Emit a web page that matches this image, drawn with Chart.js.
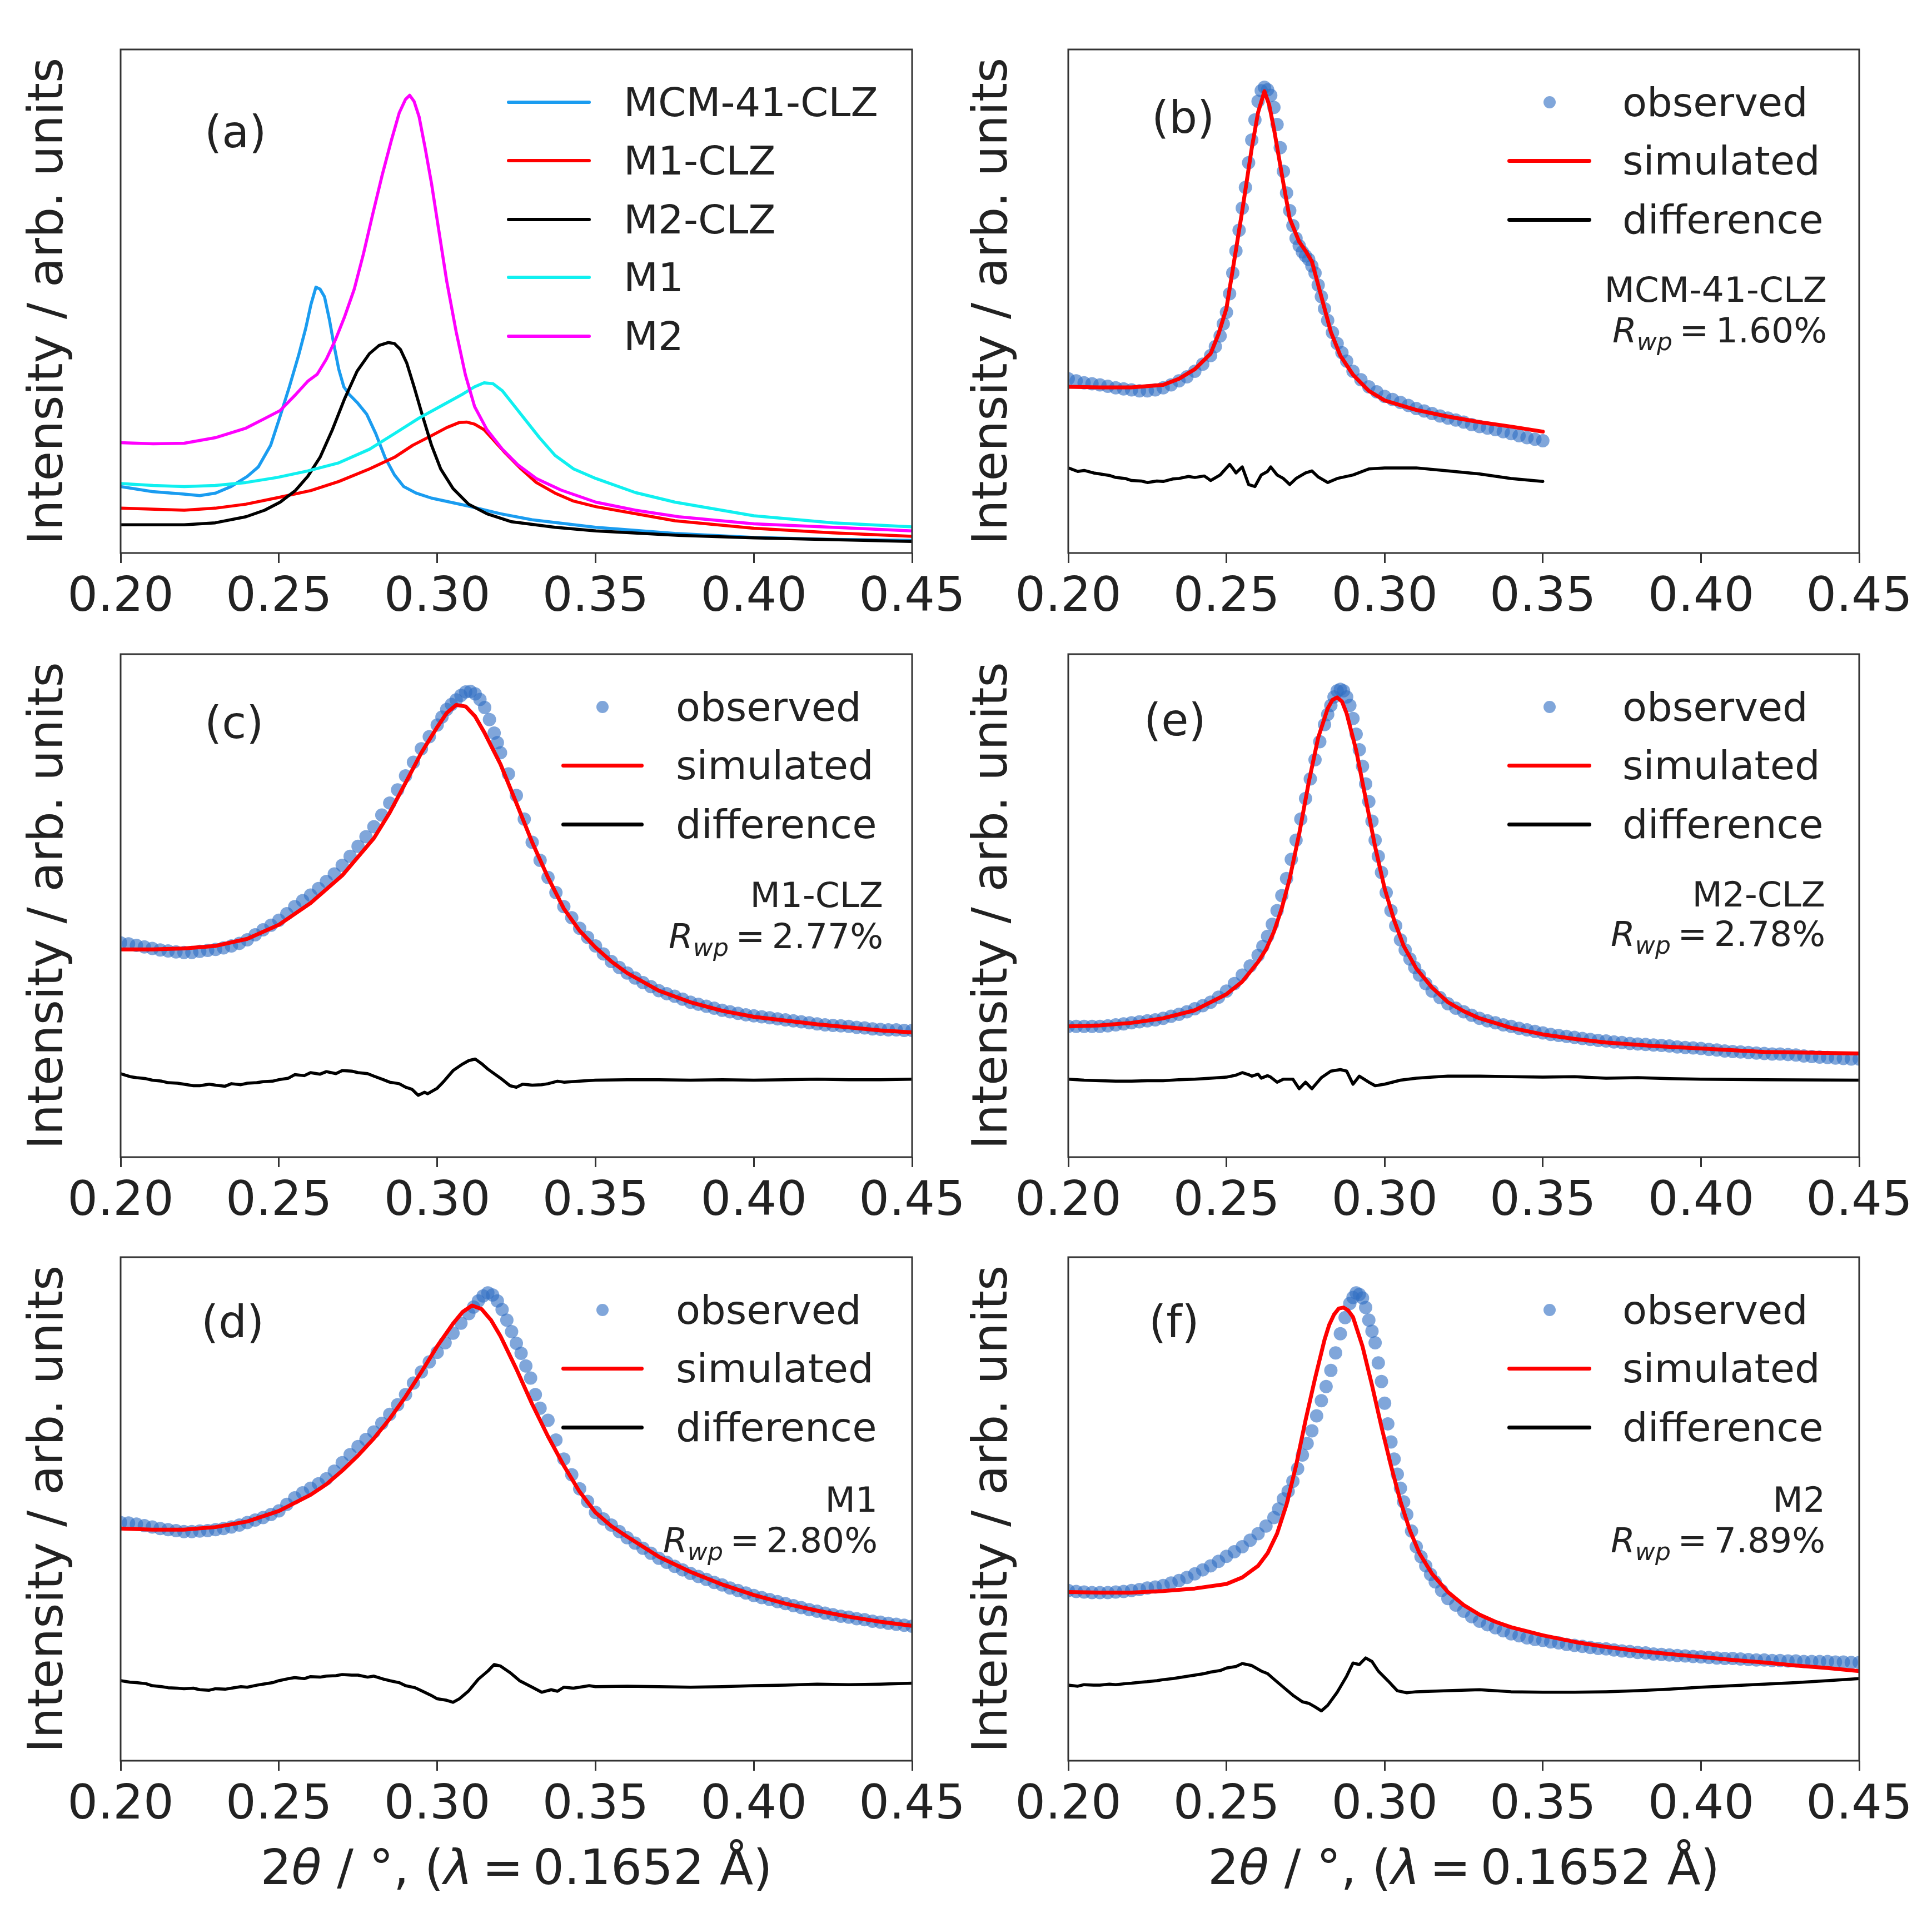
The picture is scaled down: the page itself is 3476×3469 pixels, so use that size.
<!DOCTYPE html>
<html><head><meta charset="utf-8">
<script src="https://cdn.jsdelivr.net/npm/chart.js@4.4.1/dist/chart.umd.min.js"></script>
<style>
html,body{margin:0;padding:0;background:#fff;}
#page{position:relative;width:3476px;height:3469px;overflow:hidden;background:#fff;font-family:"DejaVu Sans",sans-serif;color:#222;}
canvas{position:absolute;}
.t{position:absolute;white-space:nowrap;font-family:"DejaVu Sans",sans-serif;color:#222;}
</style></head><body><div id="page"></div>
<script>
// ---------- tick labels / text ----------
const xTickValues=[0.20,0.25,0.30,0.35,0.40,0.45];
const xTickLabels=['0.20','0.25','0.30','0.35','0.40','0.45'];
const yAxisTitle='Intensity / arb. units';
const legendA=['MCM-41-CLZ','M1-CLZ','M2-CLZ','M1','M2'];
const legendFit=['observed','simulated','difference'];
const sampleNames={b:'MCM-41-CLZ',c:'M1-CLZ',e:'M2-CLZ',d:'M1',f:'M2'};
const rwpValues={b:'1.60%',c:'2.77%',e:'2.78%',d:'2.80%',f:'7.89%'};

// ---------- panel (a) ----------
const aMcm41Clz=[[0.200,13.2],[0.210,12.2],[0.220,11.7],[0.225,11.4],[0.230,11.9],[0.2349,13.2],[0.2400,15.2],[0.2435,17.1],[0.2474,21.4],[0.2504,27.2],[0.2533,33.0],[0.2562,39.2],[0.2585,44.7],[0.2601,49.3],[0.2617,52.8],[0.2630,52.4],[0.2644,50.9],[0.2660,46.2],[0.2673,41.6],[0.2689,36.5],[0.2705,33.0],[0.2722,31.5],[0.2747,29.9],[0.2777,27.6],[0.2806,23.7],[0.2835,19.0],[0.2865,15.5],[0.2894,13.2],[0.2933,11.9],[0.2982,10.9],[0.310,9.3],[0.320,7.8],[0.330,6.6],[0.350,5.1],[0.375,3.9],[0.400,3.1],[0.425,2.7],[0.450,2.5]];
const aM1Clz=[[0.200,8.9],[0.2201,8.5],[0.2299,8.9],[0.2396,9.7],[0.2504,11.1],[0.2601,12.4],[0.2689,14.2],[0.2786,16.7],[0.2865,19.0],[0.2923,21.4],[0.2982,23.3],[0.3030,24.9],[0.3069,25.9],[0.3093,26.0],[0.3118,25.6],[0.3148,24.5],[0.3177,22.5],[0.3216,19.8],[0.3265,16.7],[0.3313,14.0],[0.3372,11.9],[0.3431,10.3],[0.3501,9.2],[0.3626,7.8],[0.3751,6.4],[0.400,4.9],[0.425,4.0],[0.450,3.3]];
const aM2Clz=[[0.200,5.6],[0.2201,5.6],[0.2299,6.0],[0.2396,7.2],[0.2455,8.5],[0.2504,10.1],[0.2552,12.4],[0.2591,15.2],[0.2630,19.0],[0.2669,24.5],[0.2708,30.7],[0.2747,36.1],[0.2786,39.6],[0.2816,41.2],[0.2845,41.8],[0.2865,41.6],[0.2884,40.4],[0.2904,37.7],[0.2927,33.0],[0.2952,27.6],[0.2982,21.4],[0.3011,16.7],[0.3050,12.8],[0.3099,9.7],[0.3157,7.8],[0.3235,6.2],[0.3372,5.1],[0.3501,4.4],[0.3762,3.5],[0.400,3.0],[0.450,2.3]];
const aM1=[[0.200,13.8],[0.2103,13.4],[0.2201,13.2],[0.2299,13.4],[0.2396,14.0],[0.2494,15.0],[0.2591,16.3],[0.2689,17.9],[0.2786,20.6],[0.2865,23.7],[0.2943,26.8],[0.3021,29.5],[0.3079,31.5],[0.3118,33.0],[0.3148,33.8],[0.3177,33.6],[0.3206,32.2],[0.3235,29.9],[0.3274,26.8],[0.3323,22.9],[0.3372,19.4],[0.3431,16.7],[0.3501,14.8],[0.3626,12.0],[0.3751,10.1],[0.400,7.4],[0.425,6.0],[0.450,5.2]];
const aM2=[[0.200,21.9],[0.2103,21.7],[0.2201,21.8],[0.2299,22.9],[0.2396,24.8],[0.2455,26.7],[0.2504,28.3],[0.2552,31.4],[0.2591,34.1],[0.2621,35.5],[0.2650,38.5],[0.2679,42.4],[0.2708,47.0],[0.2738,52.4],[0.2767,59.4],[0.2796,67.2],[0.2826,75.0],[0.2855,81.9],[0.2880,87.4],[0.2900,90.1],[0.2913,90.9],[0.2927,89.7],[0.2943,86.6],[0.2962,80.4],[0.2982,73.4],[0.3005,64.1],[0.3030,54.0],[0.3060,43.9],[0.3089,35.4],[0.3118,29.1],[0.3157,24.5],[0.3206,20.6],[0.3255,17.5],[0.3313,14.8],[0.3391,12.5],[0.3501,10.1],[0.3626,8.5],[0.3762,7.2],[0.400,5.8],[0.425,5.1],[0.450,4.4]];

// ---------- panel (b) MCM-41-CLZ ----------
const bObserved=[[0.200,34.6],[0.2025,34.2],[0.205,33.8],[0.2075,33.6],[0.210,33.4],[0.2125,33.1],[0.215,32.8],[0.2175,32.6],[0.220,32.4],[0.2225,32.2],[0.225,32.2],[0.2275,32.4],[0.230,32.8],[0.2325,33.4],[0.235,34.2],[0.2375,35.0],[0.240,36.1],[0.2425,37.5],[0.245,39.2],[0.2465,41.0],[0.248,43.1],[0.249,45.5],[0.250,47.8],[0.251,51.5],[0.252,55.6],[0.253,60.0],[0.254,64.1],[0.255,68.5],[0.256,72.6],[0.257,77.5],[0.258,82.0],[0.259,86.0],[0.260,89.7],[0.261,91.8],[0.262,92.5],[0.263,92.0],[0.264,90.9],[0.265,88.5],[0.266,85.1],[0.267,80.5],[0.268,75.8],[0.269,71.5],[0.270,68.0],[0.271,65.0],[0.272,62.5],[0.273,61.0],[0.274,59.8],[0.275,59.0],[0.276,58.3],[0.277,57.0],[0.278,55.6],[0.279,53.2],[0.280,50.9],[0.281,48.5],[0.282,46.2],[0.2835,43.8],[0.285,41.6],[0.2865,39.8],[0.288,38.1],[0.290,36.1],[0.2925,34.4],[0.295,33.0],[0.2975,32.0],[0.300,31.1],[0.3025,30.5],[0.305,29.9],[0.3075,29.3],[0.310,28.7],[0.3125,28.2],[0.315,27.7],[0.3175,27.2],[0.320,26.8],[0.3225,26.4],[0.325,26.0],[0.3275,25.5],[0.330,25.1],[0.3325,24.8],[0.335,24.5],[0.3375,24.1],[0.340,23.7],[0.3425,23.3],[0.345,22.9],[0.3475,22.6],[0.350,22.3]];
const bSimulated=[[0.200,33.0],[0.210,32.9],[0.220,32.9],[0.230,33.4],[0.235,34.6],[0.240,36.5],[0.245,39.6],[0.2475,43.5],[0.250,48.6],[0.252,56.3],[0.255,68.0],[0.258,80.4],[0.260,87.5],[0.262,91.7],[0.2635,89.0],[0.265,84.3],[0.268,73.4],[0.270,66.4],[0.273,61.8],[0.275,60.0],[0.277,57.9],[0.280,50.9],[0.283,43.9],[0.286,39.2],[0.290,35.4],[0.295,32.2],[0.300,30.3],[0.310,28.4],[0.320,27.1],[0.330,26.0],[0.340,25.1],[0.350,24.1]];
const bDifference=[[0.200,16.9],[0.203,16.2],[0.205,16.4],[0.208,15.9],[0.210,15.7],[0.213,15.4],[0.215,15.0],[0.218,14.8],[0.220,14.4],[0.223,14.3],[0.225,14.0],[0.228,14.3],[0.230,14.2],[0.233,14.7],[0.235,14.8],[0.238,15.2],[0.240,15.0],[0.243,15.3],[0.245,14.4],[0.248,15.5],[0.251,17.6],[0.252,16.8],[0.253,15.9],[0.255,17.1],[0.257,13.6],[0.259,13.2],[0.261,15.5],[0.263,16.2],[0.264,17.1],[0.266,15.5],[0.268,14.8],[0.270,13.6],[0.272,14.8],[0.275,15.9],[0.277,16.3],[0.279,15.1],[0.282,14.0],[0.285,14.8],[0.290,15.5],[0.295,16.7],[0.300,16.9],[0.310,16.9],[0.320,16.3],[0.330,15.7],[0.340,14.8],[0.350,14.2]];

// ---------- panel (c) M1-CLZ ----------
const cObserved=[[0.200,42.6],[0.2025,42.4],[0.205,42.1],[0.2075,41.8],[0.210,41.5],[0.2125,41.2],[0.215,41.0],[0.2175,40.8],[0.220,40.7],[0.2225,40.7],[0.225,40.9],[0.2275,41.1],[0.230,41.3],[0.2325,41.6],[0.235,42.0],[0.2375,42.5],[0.240,43.2],[0.2425,44.2],[0.245,45.2],[0.2475,46.1],[0.250,47.1],[0.2525,48.4],[0.255,49.8],[0.2575,51.0],[0.260,52.1],[0.2625,53.4],[0.265,54.8],[0.2675,56.3],[0.270,58.0],[0.2725,59.8],[0.275,61.8],[0.2775,63.7],[0.280,65.7],[0.2825,68.0],[0.285,70.4],[0.2875,73.0],[0.290,75.8],[0.2925,78.5],[0.295,81.2],[0.2975,83.6],[0.300,85.9],[0.3015,87.5],[0.303,89.0],[0.3045,90.0],[0.306,90.9],[0.3075,91.8],[0.309,92.5],[0.3105,92.6],[0.312,92.1],[0.3135,91.0],[0.315,89.4],[0.3165,87.0],[0.318,84.3],[0.319,82.4],[0.320,80.4],[0.3225,76.2],[0.325,71.9],[0.3275,67.2],[0.330,62.6],[0.3325,59.0],[0.335,55.6],[0.3375,52.6],[0.340,49.8],[0.3425,47.6],[0.345,45.5],[0.3475,43.7],[0.350,42.0],[0.3525,40.4],[0.355,38.9],[0.3575,37.7],[0.360,36.6],[0.3625,35.6],[0.365,34.7],[0.3675,33.9],[0.370,33.1],[0.3725,32.5],[0.375,32.0],[0.3775,31.4],[0.380,30.8],[0.3825,30.4],[0.385,30.0],[0.3875,29.6],[0.390,29.2],[0.3925,28.9],[0.395,28.6],[0.3975,28.3],[0.400,28.1],[0.4025,27.9],[0.405,27.7],[0.4075,27.5],[0.410,27.3],[0.4125,27.1],[0.415,26.9],[0.4175,26.7],[0.420,26.5],[0.4225,26.3],[0.425,26.2],[0.4275,26.1],[0.430,26.0],[0.4325,25.8],[0.435,25.7],[0.4375,25.5],[0.440,25.4],[0.4425,25.3],[0.445,25.3],[0.4475,25.2],[0.450,25.2]];
const cSimulated=[[0.200,41.3],[0.210,41.3],[0.220,41.5],[0.230,42.0],[0.240,43.4],[0.250,46.2],[0.260,50.5],[0.270,56.0],[0.280,63.4],[0.285,68.5],[0.290,74.4],[0.295,80.4],[0.300,85.5],[0.303,88.3],[0.306,89.9],[0.309,89.6],[0.312,87.6],[0.315,84.3],[0.320,78.1],[0.325,70.4],[0.330,62.6],[0.335,55.6],[0.340,49.4],[0.345,45.0],[0.350,41.7],[0.355,38.9],[0.360,36.6],[0.370,33.1],[0.380,30.8],[0.390,29.1],[0.400,27.9],[0.420,26.4],[0.440,25.2],[0.450,24.8]];
const cDifference=[[0.200,16.6],[0.203,16.0],[0.205,15.8],[0.208,15.6],[0.210,15.3],[0.213,15.1],[0.215,14.8],[0.218,14.7],[0.220,14.5],[0.223,14.2],[0.225,14.2],[0.228,14.5],[0.230,14.3],[0.233,14.1],[0.235,14.6],[0.238,14.4],[0.240,14.7],[0.243,14.8],[0.245,15.0],[0.248,15.1],[0.250,15.4],[0.253,15.7],[0.255,16.4],[0.258,16.2],[0.260,16.8],[0.263,16.5],[0.265,17.0],[0.268,16.6],[0.270,17.2],[0.273,17.1],[0.275,16.8],[0.278,16.6],[0.280,16.1],[0.283,15.4],[0.285,14.9],[0.288,14.6],[0.290,13.9],[0.292,13.5],[0.294,12.3],[0.296,12.9],[0.297,12.6],[0.300,13.7],[0.302,15.0],[0.305,17.2],[0.308,18.5],[0.310,19.2],[0.312,19.5],[0.314,18.6],[0.316,17.5],[0.320,15.7],[0.323,14.2],[0.325,13.9],[0.327,14.5],[0.330,14.3],[0.333,14.4],[0.335,14.6],[0.338,15.1],[0.340,14.9],[0.345,15.1],[0.350,15.3],[0.360,15.4],[0.370,15.4],[0.380,15.3],[0.390,15.4],[0.400,15.3],[0.410,15.4],[0.420,15.5],[0.430,15.4],[0.440,15.4],[0.450,15.5]];

// ---------- panel (e) M2-CLZ ----------
const eObserved=[[0.200,26.0],[0.2025,26.0],[0.205,26.0],[0.2075,26.0],[0.210,26.0],[0.2125,26.1],[0.215,26.3],[0.2175,26.5],[0.220,26.7],[0.2225,26.9],[0.225,27.1],[0.2275,27.3],[0.230,27.6],[0.2325,28.0],[0.235,28.4],[0.2375,28.9],[0.240,29.5],[0.2425,30.1],[0.245,30.8],[0.2475,31.8],[0.250,33.0],[0.2525,34.5],[0.255,36.2],[0.2575,38.0],[0.260,40.1],[0.2615,41.9],[0.263,43.9],[0.2645,46.3],[0.266,49.0],[0.2675,52.0],[0.269,55.4],[0.2705,59.2],[0.272,63.0],[0.2735,67.2],[0.275,71.3],[0.2765,75.2],[0.278,79.0],[0.2795,82.6],[0.281,86.0],[0.282,88.0],[0.283,89.8],[0.284,91.5],[0.285,92.7],[0.286,93.0],[0.287,92.7],[0.288,91.5],[0.289,89.8],[0.290,87.2],[0.291,84.1],[0.292,81.0],[0.293,77.7],[0.294,74.2],[0.295,70.7],[0.296,66.8],[0.297,63.0],[0.298,59.8],[0.299,56.6],[0.3005,52.6],[0.302,49.0],[0.3035,46.0],[0.305,43.2],[0.3065,41.2],[0.308,39.4],[0.3095,37.7],[0.311,36.2],[0.313,34.5],[0.315,33.0],[0.3175,31.7],[0.320,30.5],[0.3225,29.6],[0.325,28.9],[0.3275,28.2],[0.330,27.6],[0.3325,27.1],[0.335,26.7],[0.3375,26.3],[0.340,26.0],[0.3425,25.6],[0.345,25.3],[0.3475,25.0],[0.350,24.7],[0.3525,24.4],[0.355,24.2],[0.3575,24.0],[0.360,23.8],[0.3625,23.6],[0.365,23.4],[0.3675,23.2],[0.370,23.1],[0.3725,22.9],[0.375,22.8],[0.3775,22.6],[0.380,22.5],[0.3825,22.4],[0.385,22.3],[0.3875,22.2],[0.390,22.1],[0.3925,21.9],[0.395,21.8],[0.3975,21.7],[0.400,21.6],[0.4025,21.4],[0.405,21.3],[0.4075,21.1],[0.410,21.0],[0.4125,20.9],[0.415,20.8],[0.4175,20.7],[0.420,20.6],[0.4225,20.5],[0.425,20.5],[0.4275,20.4],[0.430,20.3],[0.4325,20.1],[0.435,20.0],[0.4375,19.9],[0.440,19.8],[0.4425,19.7],[0.445,19.6],[0.4475,19.5],[0.450,19.5]];
const eSimulated=[[0.200,26.0],[0.210,26.2],[0.220,26.7],[0.230,27.6],[0.240,29.2],[0.250,32.4],[0.255,34.9],[0.260,38.8],[0.2625,41.3],[0.265,44.8],[0.2675,49.5],[0.270,55.4],[0.273,64.3],[0.276,74.5],[0.279,83.4],[0.282,89.2],[0.2835,90.9],[0.285,91.4],[0.2865,90.6],[0.288,88.2],[0.291,80.9],[0.294,71.3],[0.297,61.7],[0.300,53.4],[0.303,47.1],[0.306,42.0],[0.310,37.5],[0.315,33.7],[0.320,30.8],[0.325,29.0],[0.330,27.6],[0.340,25.7],[0.350,24.4],[0.360,23.5],[0.370,22.8],[0.385,22.1],[0.400,21.6],[0.420,20.9],[0.450,20.6]];
const eDifference=[[0.200,15.5],[0.205,15.3],[0.210,15.2],[0.215,15.1],[0.220,15.1],[0.225,15.2],[0.230,15.2],[0.235,15.4],[0.240,15.5],[0.245,15.7],[0.250,15.9],[0.253,16.3],[0.255,16.8],[0.257,16.4],[0.258,16.1],[0.260,16.5],[0.261,15.7],[0.263,16.2],[0.264,15.9],[0.266,14.9],[0.268,15.5],[0.271,15.5],[0.273,13.6],[0.275,14.9],[0.277,13.6],[0.280,15.8],[0.283,17.1],[0.286,17.4],[0.288,17.1],[0.290,14.5],[0.292,16.1],[0.295,14.9],[0.297,14.2],[0.300,14.5],[0.305,15.3],[0.310,15.7],[0.315,15.9],[0.320,16.1],[0.330,16.1],[0.340,16.0],[0.350,15.9],[0.360,16.0],[0.370,15.7],[0.380,15.8],[0.390,15.6],[0.400,15.5],[0.420,15.4],[0.450,15.3]];

// ---------- panel (d) M1 ----------
const dObserved=[[0.200,47.3],[0.2025,47.2],[0.205,47.0],[0.2075,46.7],[0.210,46.4],[0.2125,46.1],[0.215,45.9],[0.2175,45.7],[0.220,45.5],[0.2225,45.5],[0.225,45.6],[0.2275,45.7],[0.230,45.9],[0.2325,46.1],[0.235,46.4],[0.2375,46.8],[0.240,47.3],[0.2425,47.8],[0.245,48.3],[0.2475,48.9],[0.250,49.6],[0.2525,50.9],[0.255,52.2],[0.2575,53.2],[0.260,54.1],[0.2625,55.0],[0.265,56.0],[0.2675,57.5],[0.270,59.2],[0.2725,60.8],[0.275,62.4],[0.2775,63.8],[0.280,65.3],[0.2825,67.0],[0.285,68.8],[0.2875,70.7],[0.290,72.7],[0.2925,75.0],[0.295,77.2],[0.2975,79.2],[0.300,81.1],[0.3025,83.0],[0.305,84.9],[0.3075,86.9],[0.310,88.8],[0.3115,90.1],[0.313,91.3],[0.3145,92.3],[0.316,92.9],[0.3175,92.5],[0.319,91.3],[0.3205,89.6],[0.322,87.5],[0.3235,85.2],[0.325,82.9],[0.3265,80.9],[0.328,78.4],[0.3295,76.0],[0.331,72.7],[0.3325,70.0],[0.335,67.6],[0.3375,63.7],[0.340,59.9],[0.3425,56.8],[0.345,54.0],[0.3475,51.5],[0.350,49.3],[0.3525,48.0],[0.355,46.8],[0.3575,45.5],[0.360,44.3],[0.3625,43.2],[0.365,42.2],[0.3675,41.2],[0.370,40.2],[0.3725,39.4],[0.375,38.6],[0.3775,37.9],[0.380,37.2],[0.3825,36.6],[0.385,36.0],[0.3875,35.4],[0.390,34.9],[0.3925,34.3],[0.395,33.8],[0.3975,33.3],[0.400,32.8],[0.4025,32.4],[0.405,32.0],[0.4075,31.6],[0.410,31.2],[0.4125,30.8],[0.415,30.4],[0.4175,30.0],[0.420,29.7],[0.4225,29.3],[0.425,29.0],[0.4275,28.7],[0.430,28.5],[0.4325,28.2],[0.435,28.0],[0.4375,27.7],[0.440,27.5],[0.4425,27.3],[0.445,27.1],[0.4475,26.9],[0.450,26.7]];
const dSimulated=[[0.200,46.1],[0.210,45.9],[0.220,45.9],[0.230,46.4],[0.240,47.5],[0.250,49.6],[0.260,52.8],[0.265,54.9],[0.270,57.6],[0.275,60.6],[0.280,64.0],[0.285,67.9],[0.290,72.3],[0.295,77.2],[0.300,82.3],[0.305,86.8],[0.308,89.1],[0.311,90.4],[0.314,89.7],[0.317,87.5],[0.320,84.3],[0.325,77.8],[0.330,70.8],[0.335,64.4],[0.340,58.6],[0.345,53.4],[0.350,49.3],[0.355,46.6],[0.360,44.5],[0.370,40.5],[0.380,37.5],[0.390,35.0],[0.400,32.9],[0.410,31.2],[0.420,29.8],[0.430,28.6],[0.440,27.6],[0.450,26.8]];
const dDifference=[[0.200,15.9],[0.203,15.6],[0.205,15.5],[0.208,15.3],[0.210,14.9],[0.213,14.7],[0.215,14.5],[0.218,14.4],[0.220,14.3],[0.223,14.4],[0.225,14.1],[0.228,14.0],[0.230,14.3],[0.233,14.2],[0.235,14.4],[0.238,14.7],[0.240,14.6],[0.243,15.0],[0.245,15.2],[0.248,15.5],[0.250,15.9],[0.253,16.3],[0.255,16.5],[0.258,16.3],[0.260,16.7],[0.263,16.6],[0.265,16.8],[0.268,16.9],[0.270,17.1],[0.273,17.0],[0.275,17.0],[0.278,16.6],[0.280,16.8],[0.283,16.2],[0.285,15.9],[0.288,15.5],[0.290,14.9],[0.293,14.5],[0.295,13.9],[0.298,13.0],[0.300,12.3],[0.303,12.0],[0.305,11.6],[0.307,12.3],[0.310,13.9],[0.313,16.2],[0.316,17.8],[0.318,19.1],[0.320,18.8],[0.323,17.5],[0.326,15.9],[0.330,14.6],[0.333,13.6],[0.336,14.1],[0.338,13.8],[0.340,14.6],[0.343,14.4],[0.345,14.6],[0.348,14.9],[0.350,14.7],[0.360,14.8],[0.370,14.7],[0.380,14.6],[0.390,14.7],[0.400,14.9],[0.410,15.0],[0.420,15.2],[0.430,15.1],[0.440,15.2],[0.450,15.4]];

// ---------- panel (f) M2 ----------
const fObserved=[[0.200,33.8],[0.2025,33.6],[0.205,33.5],[0.2075,33.4],[0.210,33.4],[0.2125,33.4],[0.215,33.5],[0.2175,33.6],[0.220,33.8],[0.2225,34.0],[0.225,34.3],[0.2275,34.5],[0.230,34.8],[0.2325,35.3],[0.235,35.8],[0.2375,36.4],[0.240,37.1],[0.2425,37.9],[0.245,38.7],[0.2475,39.6],[0.250,40.6],[0.2525,41.5],[0.255,42.5],[0.2575,43.8],[0.260,45.1],[0.2625,46.6],[0.265,48.3],[0.2665,50.0],[0.268,52.0],[0.2695,53.5],[0.271,55.5],[0.2725,58.0],[0.274,60.7],[0.2755,63.0],[0.277,65.5],[0.2785,68.5],[0.280,71.5],[0.2815,74.3],[0.283,77.5],[0.2845,81.0],[0.286,84.8],[0.2875,88.0],[0.289,90.8],[0.290,92.0],[0.291,92.9],[0.292,92.6],[0.293,91.9],[0.294,90.0],[0.295,87.5],[0.296,85.3],[0.297,83.0],[0.298,79.0],[0.299,75.3],[0.300,71.0],[0.301,66.9],[0.302,63.3],[0.303,59.9],[0.304,56.9],[0.305,54.1],[0.306,51.4],[0.307,48.9],[0.3085,45.6],[0.310,42.5],[0.3115,40.5],[0.313,38.7],[0.3145,37.0],[0.316,35.5],[0.318,33.8],[0.320,32.2],[0.3225,30.9],[0.325,29.7],[0.3275,28.6],[0.330,27.7],[0.3325,27.0],[0.335,26.4],[0.3375,25.8],[0.340,25.2],[0.3425,24.8],[0.345,24.4],[0.3475,24.1],[0.350,23.9],[0.3525,23.6],[0.355,23.4],[0.3575,23.1],[0.360,22.9],[0.3625,22.7],[0.365,22.5],[0.3675,22.3],[0.370,22.2],[0.3725,22.0],[0.375,21.8],[0.3775,21.7],[0.380,21.5],[0.3825,21.4],[0.385,21.2],[0.3875,21.1],[0.390,21.0],[0.3925,20.9],[0.395,20.8],[0.3975,20.7],[0.400,20.6],[0.4025,20.5],[0.405,20.4],[0.4075,20.3],[0.410,20.3],[0.4125,20.2],[0.415,20.1],[0.4175,20.0],[0.420,20.0],[0.4225,19.9],[0.425,19.9],[0.4275,19.8],[0.430,19.8],[0.4325,19.7],[0.435,19.7],[0.4375,19.7],[0.440,19.7],[0.4425,19.6],[0.445,19.6],[0.4475,19.5],[0.450,19.5]];
const fSimulated=[[0.200,33.5],[0.210,33.4],[0.220,33.4],[0.230,33.7],[0.240,34.2],[0.250,35.1],[0.255,36.4],[0.260,38.7],[0.263,41.2],[0.266,45.1],[0.269,50.9],[0.272,58.6],[0.275,67.6],[0.278,75.9],[0.281,83.6],[0.2825,86.6],[0.284,88.6],[0.2855,89.8],[0.287,90.0],[0.2885,89.4],[0.290,88.1],[0.293,82.3],[0.296,74.6],[0.299,66.3],[0.302,58.6],[0.305,51.5],[0.308,45.7],[0.311,41.2],[0.315,37.1],[0.320,33.5],[0.325,30.9],[0.330,29.0],[0.335,27.6],[0.340,26.5],[0.350,24.9],[0.360,23.6],[0.370,22.6],[0.380,21.8],[0.390,21.2],[0.400,20.6],[0.410,20.0],[0.420,19.5],[0.430,18.9],[0.440,18.4],[0.450,17.8]];
const fDifference=[[0.200,15.0],[0.203,14.8],[0.205,15.1],[0.208,15.0],[0.210,15.0],[0.213,15.2],[0.215,15.1],[0.218,15.3],[0.220,15.4],[0.223,15.6],[0.225,15.7],[0.228,15.9],[0.230,16.1],[0.233,16.3],[0.235,16.5],[0.238,16.8],[0.240,17.0],[0.243,17.3],[0.245,17.6],[0.248,17.9],[0.250,18.4],[0.253,18.7],[0.255,19.3],[0.258,18.9],[0.261,17.8],[0.263,17.3],[0.265,16.2],[0.268,14.6],[0.271,13.0],[0.274,11.7],[0.276,11.4],[0.278,10.7],[0.280,9.9],[0.282,11.0],[0.285,13.6],[0.288,16.8],[0.290,19.4],[0.292,19.1],[0.294,20.4],[0.296,19.7],[0.298,17.8],[0.301,15.9],[0.304,13.9],[0.307,13.5],[0.310,13.7],[0.315,13.8],[0.320,13.9],[0.330,14.1],[0.340,13.7],[0.350,13.6],[0.360,13.6],[0.370,13.7],[0.380,13.9],[0.390,14.2],[0.400,14.6],[0.410,14.9],[0.420,15.2],[0.430,15.5],[0.440,15.9],[0.450,16.3]];

// ---------- styling / layout ----------
const FONT='"DejaVu Sans", sans-serif';
const TEXT='#222';
const OBS='rgba(50,112,195,0.62)';
const colorsA=['#1a9cf0','#ff0000','#000000','#10f0f0','#ff00ff'];
const page=document.getElementById('page');

const framePlugin={id:'frame',afterDatasetsDraw(chart){const {ctx,chartArea:a}=chart;ctx.save();ctx.strokeStyle='#333';ctx.lineWidth=3;ctx.strokeRect(a.left,a.top,a.right-a.left,a.bottom-a.top);ctx.restore();}};
const toPts=arr=>arr.map(p=>({x:p[0],y:p[1]}));

function makeChart(p,datasets){
  const PADL=217,PADT=20,PADR=130,XH=140;
  const w=p.W+PADL+PADR,h=p.H+PADT+XH;
  const cv=document.createElement('canvas');
  cv.width=w;cv.height=h;cv.style.left=(p.L-PADL)+'px';cv.style.top=(p.T-PADT)+'px';cv.style.width=w+'px';cv.style.height=h+'px';
  page.appendChild(cv);
  new Chart(cv.getContext('2d'),{type:'scatter',data:{datasets},options:{
    responsive:false,animation:false,devicePixelRatio:1,events:[],
    layout:{padding:{left:0,top:PADT,right:PADR,bottom:0}},
    plugins:{legend:{display:false},tooltip:{enabled:false}},
    scales:{
      x:{type:'linear',min:0.2,max:0.45,
        afterBuildTicks:s=>{s.ticks=xTickValues.map(v=>({value:v}));},
        afterFit:s=>{s.height=XH;},
        ticks:{autoSkip:false,maxRotation:0,minRotation:0,padding:12,color:TEXT,font:{family:FONT,size:86},
          callback:v=>xTickLabels[xTickValues.findIndex(t=>Math.abs(t-v)<1e-9)]},
        grid:{display:true,drawOnChartArea:false,drawTicks:true,tickLength:18,tickWidth:3,tickColor:'#333',color:'#333'},
        border:{display:false}},
      y:{type:'linear',min:0,max:100,
        afterFit:s=>{s.width=PADL;},
        ticks:{display:false},grid:{display:false,drawTicks:false},border:{display:false},
        title:{display:true,text:yAxisTitle,color:TEXT,font:{family:FONT,size:87},padding:{top:p.titlePad,bottom:0}}}
    }},plugins:[framePlugin]});
}
const lineDs=(arr,color,width,order)=>({data:toPts(arr),showLine:true,borderColor:color,backgroundColor:color,borderWidth:width,borderJoinStyle:'round',borderCapStyle:'round',pointRadius:0,tension:0,fill:false,order});
const obsDs=arr=>({data:toPts(arr),showLine:false,pointRadius:12,pointBackgroundColor:OBS,pointBorderColor:OBS,pointBorderWidth:0,order:2});
const fitSets=(o,s,d)=>[lineDs(s,'#ff0000',7,0),lineDs(d,'#000000',5.5,1),obsDs(o)];

const panels={
  a:{L:217,T:89,W:1424,H:906,titlePad:37},
  b:{L:1922,T:89,W:1423,H:906,titlePad:31},
  c:{L:217,T:1177,W:1424,H:905,titlePad:37},
  e:{L:1922,T:1177,W:1423,H:905,titlePad:31},
  d:{L:217,T:2262,W:1424,H:906,titlePad:37},
  f:{L:1922,T:2262,W:1423,H:906,titlePad:31}
};
const seriesA=[aMcm41Clz,aM1Clz,aM2Clz,aM1,aM2];
makeChart(panels.a,seriesA.map((s,i)=>lineDs(s,colorsA[i],5.5,4-i)));
makeChart(panels.b,fitSets(bObserved,bSimulated,bDifference));
makeChart(panels.c,fitSets(cObserved,cSimulated,cDifference));
makeChart(panels.e,fitSets(eObserved,eSimulated,eDifference));
makeChart(panels.d,fitSets(dObserved,dSimulated,dDifference));
makeChart(panels.f,fitSets(fObserved,fSimulated,fDifference));

// ---------- HTML text overlays ----------
function addText(html,x,cy,size,align){
  const d=document.createElement('div');d.className='t';
  const lh=Math.round(size*1.2);
  d.style.fontSize=size+'px';d.style.lineHeight=lh+'px';d.style.height=lh+'px';d.style.top=Math.round(cy-lh/2)+'px';
  if(align==='right'){d.style.left=(x-1400)+'px';d.style.width='1400px';d.style.textAlign='right';}
  else if(align==='center'){d.style.left=(x-1000)+'px';d.style.width='2000px';d.style.textAlign='center';}
  else{d.style.left=x+'px';}
  d.innerHTML=html;page.appendChild(d);
}
function addLine(x1,x2,cy,color,th){const d=document.createElement('div');d.style.cssText=`position:absolute;left:${x1}px;top:${cy-th/2}px;width:${x2-x1}px;height:${th}px;background:${color};border-radius:${th/2}px;`;page.appendChild(d);}
function addDot(cx,cy,r){const d=document.createElement('div');d.style.cssText=`position:absolute;left:${cx-r}px;top:${cy-r}px;width:${2*r}px;height:${2*r}px;border-radius:50%;background:${OBS};`;page.appendChild(d);}

// panel letters
const letterPos={a:[368,238],b:[2072,212],c:[368,1301],e:[2058,1296],d:[362,2379],f:[2067,2379]};
for(const k in letterPos){addText('('+k+')',letterPos[k][0],letterPos[k][1],80,'left');}

// legend (a)
const rowsA=[184,289,395,499,605];
legendA.forEach((lab,i)=>{addLine(912,1063,rowsA[i],colorsA[i],6);addText(lab,1122,rowsA[i],72,'left');});

// fit legends
const fitLegendPos={b:{x1:2712,x2:2863,tx:2919,T:89},e:{x1:2712,x2:2863,tx:2919,T:1177},f:{x1:2712,x2:2863,tx:2919,T:2262},
                    c:{x1:1010,x2:1158,tx:1216,T:1177},d:{x1:1010,x2:1158,tx:1216,T:2262}};
for(const k in fitLegendPos){
  const g=fitLegendPos[k];const r=[g.T+95,g.T+200,g.T+306];
  addDot((g.x1+g.x2)/2,r[0],11);addText(legendFit[0],g.tx,r[0],72,'left');
  addLine(g.x1,g.x2,r[1],'#ff0000',7);addText(legendFit[1],g.tx,r[1],72,'left');
  addLine(g.x1,g.x2,r[2],'#000000',7);addText(legendFit[2],g.tx,r[2],72,'left');
}

// sample annotations
const annPos={b:[3287,522,595],c:[1589,1611,1685],e:[3284,1610,1681],d:[1579,2699,2772],f:[3284,2699,2772]};
for(const k in annPos){
  const a=annPos[k];
  addText(sampleNames[k],a[0],a[1],63,'right');
  addText('<i>R</i><span style="font-style:italic;font-size:0.7em;position:relative;top:0.32em;line-height:0">wp</span>&#8201;=&#8201;'+rwpValues[k],a[0],a[2],63,'right');
}

// x-axis titles
const xTitle='2<i>θ</i> / °, (<i>λ</i>&#8201;=&#8201;0.1652 Å)';
addText(xTitle,(217+1641)/2,3360,88,'center');
addText(xTitle,(1922+3345)/2,3360,88,'center');
</script></body></html>
